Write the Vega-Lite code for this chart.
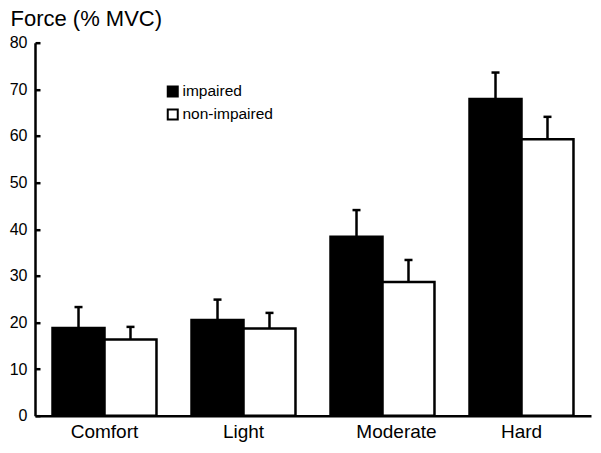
{
  "$schema": "https://vega.github.io/schema/vega-lite/v6.json",
  "width": 556,
  "height": 373,
  "autosize": "none",
  "padding": {"left": 35, "top": 42.7, "right": 10, "bottom": 37.3},
  "background": "white",
  "config": {
    "view": {"stroke": null},
    "font": "Liberation Sans",
    "axis": {"grid": false, "domainColor": "black", "tickColor": "black", "labelColor": "black", "titleColor": "black", "domainWidth": 2.5, "tickWidth": 2.5}
  },
  "data": {
    "values": [
      {"level": "Comfort", "group": "impaired", "value": 18.8, "upper": 23.3},
      {"level": "Comfort", "group": "non-impaired", "value": 16.35, "upper": 19.05},
      {"level": "Light", "group": "impaired", "value": 20.5, "upper": 24.9},
      {"level": "Light", "group": "non-impaired", "value": 18.7, "upper": 22.05},
      {"level": "Moderate", "group": "impaired", "value": 38.4, "upper": 44.1},
      {"level": "Moderate", "group": "non-impaired", "value": 28.7, "upper": 33.4},
      {"level": "Hard", "group": "impaired", "value": 67.9, "upper": 73.6},
      {"level": "Hard", "group": "non-impaired", "value": 59.3, "upper": 64.1}
    ]
  },
  "encoding": {
    "x": {
      "field": "level", "type": "nominal",
      "sort": ["Comfort", "Light", "Moderate", "Hard"],
      "scale": {"paddingInner": 0, "paddingOuter": 0},
      "axis": {
        "title": null, "labelAngle": 0, "labelFontSize": 19, "ticks": false, "labelPadding": 7,
        "labelOffset": {"condition": {"test": "datum.value === 'Moderate'", "value": 14}, "value": 0}
      }
    },
    "xOffset": {
      "field": "group", "type": "nominal",
      "scale": {"paddingInner": 0, "paddingOuter": 0.337}
    }
  },
  "layer": [
    {
      "mark": {"type": "rule", "strokeWidth": 2.5, "color": "black"},
      "encoding": {
        "y": {"field": "value", "type": "quantitative"},
        "y2": {"field": "upper"}
      }
    },
    {
      "mark": {"type": "tick", "size": 8, "thickness": 2.5, "color": "black", "opacity": 1},
      "encoding": {
        "y": {"field": "upper", "type": "quantitative"}
      }
    },
    {
      "mark": {"type": "bar", "stroke": "black", "strokeWidth": 2.5, "opacity": 1},
      "encoding": {
        "y": {
          "field": "value", "type": "quantitative", "stack": null,
          "scale": {"domain": [0, 80], "nice": false},
          "axis": {
            "title": "Force (% MVC)", "titleAngle": 0, "titleAlign": "left", "titleBaseline": "alphabetic",
            "titleX": -25, "titleY": -17.7, "titleFontSize": 22, "titleFontWeight": "normal",
            "values": [0, 10, 20, 30, 40, 50, 60, 70, 80],
            "labelFontSize": 16, "tickSize": -5, "labelPadding": 13
          }
        },
        "fill": {
          "field": "group", "type": "nominal",
          "scale": {"domain": ["impaired", "non-impaired"], "range": ["black", "white"]},
          "legend": {
            "title": null, "orient": "none", "legendX": 130, "legendY": 41,
            "symbolType": "square", "symbolSize": 100, "symbolStrokeColor": "black", "symbolStrokeWidth": 2,
            "labelFontSize": 15.5, "labelColor": "black", "rowPadding": 4, "padding": 0, "labelOffset": 2
          }
        }
      }
    }
  ]
}
